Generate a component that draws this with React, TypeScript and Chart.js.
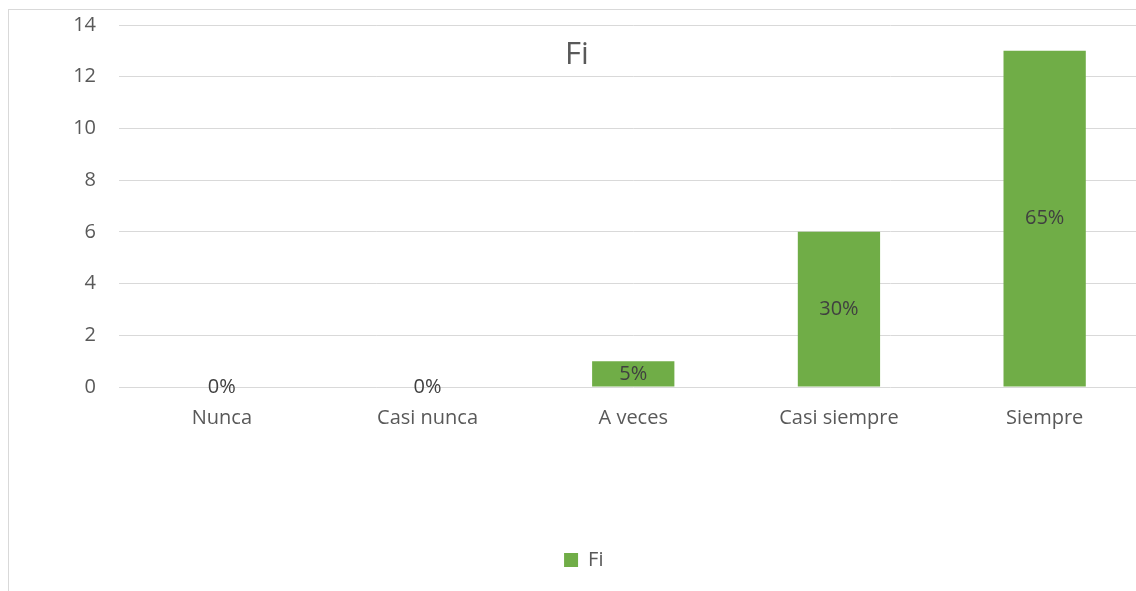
import React, { useEffect, useRef } from "react";
import { Chart, registerables } from "chart.js";

Chart.register(...registerables);

const categories = ["Nunca", "Casi nunca", "A veces", "Casi siempre", "Siempre"];
const fiValues = [0, 0, 1, 6, 13];
const percentLabels = ["0%", "0%", "5%", "30%", "65%"];
const seriesName = "Fi";
const chartTitle = "Fi";
const yMin = 0;
const yMax = 14;
const yStep = 2;

const FONT = "'Open Sans', 'Noto Sans', sans-serif";

const titlePlugin = {
  id: "customTitle",
  afterDraw(chart: any) {
    const ctx = chart.ctx;
    ctx.save();
    ctx.font = `31px ${FONT}`;
    ctx.fillStyle = "#595959";
    ctx.textAlign = "center";
    ctx.textBaseline = "middle";
    ctx.fillText(chartTitle, 577, 55);
    ctx.restore();
  },
};

const percentPlugin = {
  id: "percentLabels",
  afterDatasetsDraw(chart: any) {
    const ctx = chart.ctx;
    const meta = chart.getDatasetMeta(0);
    ctx.save();
    ctx.font = `20px ${FONT}`;
    ctx.fillStyle = "#404040";
    ctx.textAlign = "center";
    ctx.textBaseline = "middle";
    meta.data.forEach((bar: any, i: number) => {
      const cy = (bar.y + bar.base) / 2;
      ctx.fillText(percentLabels[i], bar.x, cy);
    });
    ctx.restore();
  },
};

export default function App() {
  const ref = useRef<HTMLCanvasElement>(null);

  useEffect(() => {
    if (!ref.current) return;
    const chart = new Chart(ref.current, {
      type: "bar",
      data: {
        labels: categories,
        datasets: [
          {
            label: seriesName,
            data: fiValues,
            backgroundColor: "#70AD47",
            borderWidth: 0,
            barPercentage: 1,
            categoryPercentage: 0.4,
          },
        ],
      },
      options: {
        responsive: false,
        animation: false,
        layout: { padding: { left: 20, right: 12.5, top: 25, bottom: 11 } },
        plugins: {
          title: { display: false },
          tooltip: { enabled: false },
          legend: {
            display: true,
            position: "bottom",
            labels: {
              boxWidth: 14,
              boxHeight: 14,
              color: "#595959",
              font: { family: FONT, size: 20 },
              padding: 10,
            },
          },
        },
        scales: {
          x: {
            grid: { display: false, drawTicks: false },
            border: { display: false },
            ticks: {
              color: "#595959",
              font: { family: FONT, size: 20 },
              padding: 19,
              maxRotation: 0,
            },
            afterFit: (scale: any) => {
              scale.height = 153;
            },
          },
          y: {
            min: yMin,
            max: yMax,
            grid: { color: "#d9d9d9", lineWidth: 1, drawTicks: false },
            border: { display: false },
            ticks: {
              stepSize: yStep,
              color: "#595959",
              font: { family: FONT, size: 20 },
              padding: 23,
            },
            afterFit: (scale: any) => {
              scale.width = 99;
              scale.paddingTop = 0;
              scale.paddingBottom = 0;
            },
          },
        },
      },
      plugins: [titlePlugin, percentPlugin],
    });
    return () => chart.destroy();
  }, []);

  return (
    <div
      style={{
        position: "absolute",
        left: 0,
        top: 0,
        width: 1136,
        height: 591,
        overflow: "hidden",
        background: "#ffffff",
      }}
    >
      <div
        style={{
          position: "absolute",
          left: 8,
          top: 9,
          width: 2000,
          height: 2000,
          borderLeft: "1.5px solid #d9d9d9",
          borderTop: "1.5px solid #d9d9d9",
        }}
      />
      <canvas
        ref={ref}
        width={1160}
        height={591}
        style={{ position: "absolute", left: 0, top: 0, display: "block" }}
      />
    </div>
  );
}
